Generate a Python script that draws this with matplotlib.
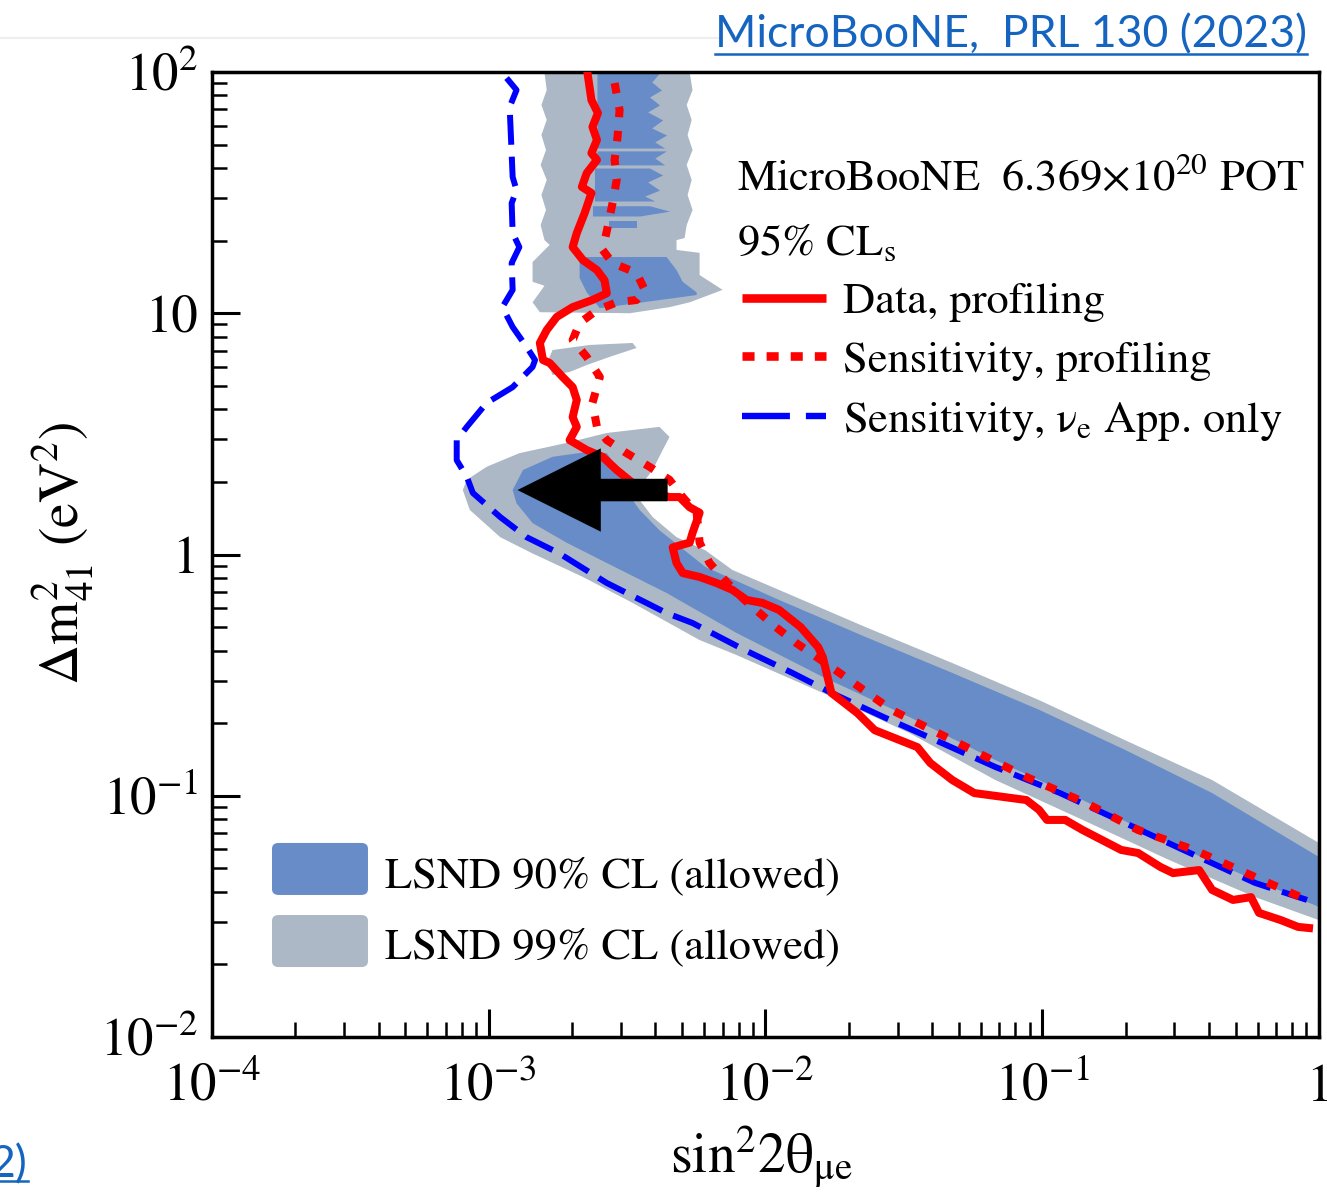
import matplotlib
matplotlib.use('Agg')
import matplotlib.pyplot as plt
from matplotlib.patches import FancyBboxPatch
from matplotlib.lines import Line2D
from matplotlib.ticker import FixedLocator, FixedFormatter, LogLocator, NullFormatter

plt.rcParams['font.family'] = 'STIXGeneral'
plt.rcParams['mathtext.fontset'] = 'stix'

# MicroBooNE data, profiling (95% CLs)
data_x = [2.28e-3, 2.35e-3, 2.48e-3, 2.37e-3, 2.46e-3, 2.35e-3, 2.46e-3, 2.26e-3, 2.17e-3, 2.35e-3,
          2.22e-3, 2.08e-3, 2.01e-3, 2.19e-3, 2.46e-3, 2.62e-3, 2.67e-3, 2.37e-3, 2.01e-3, 1.76e-3,
          1.62e-3, 1.53e-3, 1.57e-3, 1.66e-3, 1.85e-3, 2.01e-3, 2.08e-3, 2.01e-3, 2.08e-3, 1.96e-3,
          2.26e-3, 2.58e-3, 2.90e-3, 3.31e-3, 3.91e-3, 4.50e-3, 4.89e-3, 5.32e-3, 5.78e-3, 5.45e-3,
          5.32e-3, 4.62e-3, 4.77e-3, 5.02e-3, 5.78e-3, 6.65e-3, 7.60e-3, 8.54e-3, 9.75e-3, 1.12e-2,
          1.34e-2, 1.55e-2, 1.61e-2, 1.73e-2, 2.15e-2, 2.48e-2, 3.54e-2, 3.94e-2, 4.73e-2, 5.68e-2,
          8.76e-2, 9.75e-2, 0.104, 0.121, 0.140, 0.193, 0.222, 0.267, 0.297, 0.369,
          0.411, 0.489, 0.568, 0.607, 0.729, 0.840, 0.920]
data_y = [97.0, 76.5, 67.6, 59.2, 52.3, 46.1, 43.2, 38.1, 33.4, 31.5,
          26.0, 21.5, 18.8, 16.6, 15.1, 13.7, 12.1, 11.35, 10.6, 9.65,
          8.52, 7.53, 6.40, 6.22, 5.44, 4.94, 4.37, 3.71, 3.38, 2.98,
          2.71, 2.54, 2.24, 1.98, 1.80, 1.73, 1.73, 1.57, 1.49, 1.23,
          1.12, 1.07, 0.922, 0.838, 0.807, 0.762, 0.713, 0.648, 0.630, 0.589,
          0.500, 0.413, 0.376, 0.267, 0.220, 0.187, 0.159, 0.1367, 0.1162, 0.1026,
          0.0960, 0.0873, 0.0794, 0.0794, 0.0721, 0.0596, 0.0579, 0.0507, 0.0478, 0.0492,
          0.0407, 0.0370, 0.0380, 0.0327, 0.0305, 0.0286, 0.0283]

# sensitivity, profiling
sens_x = [2.85e-3, 2.97e-3, 2.92e-3, 2.85e-3, 2.90e-3, 2.80e-3, 2.69e-3, 2.58e-3, 2.80e-3, 3.42e-3,
          3.66e-3, 3.42e-3, 2.90e-3, 2.46e-3, 2.13e-3, 2.01e-3, 2.26e-3, 2.52e-3, 2.37e-3, 2.46e-3,
          2.67e-3, 3.15e-3, 3.81e-3, 4.50e-3, 5.02e-3, 5.64e-3, 5.78e-3, 6.28e-3, 7.29e-3, 8.40e-3,
          1.09e-2, 1.29e-2, 1.79e-2, 2.85e-2, 4.73e-2, 8.76e-2, 0.144, 0.222, 0.354, 0.588, 0.905]
sens_y = [90.0, 69.6, 53.8, 43.2, 35.7, 28.6, 22.8, 18.3, 16.15, 14.7,
          12.5, 11.35, 11.1, 10.3, 9.11, 7.75, 6.59, 5.44, 4.25, 3.38,
          2.98, 2.63, 2.31, 2.04, 1.73, 1.49, 1.12, 0.922, 0.762, 0.648,
          0.500, 0.430, 0.332, 0.227, 0.170, 0.1196, 0.0933, 0.0721, 0.0596, 0.0460, 0.0370]

# sensitivity, nu_e appearance only
app_x = [1.16e-3, 1.26e-3, 1.19e-3, 1.22e-3, 1.26e-3, 1.21e-3, 1.22e-3, 1.29e-3, 1.21e-3, 1.22e-3,
         1.12e-3, 1.22e-3, 1.37e-3, 1.47e-3, 1.44e-3, 1.22e-3, 9.83e-4, 8.33e-4, 7.66e-4, 7.66e-4,
         8.33e-4, 8.76e-4, 1.10e-3, 1.37e-3, 1.80e-3, 2.67e-3, 4.39e-3, 5.45e-3, 8.40e-3, 1.25e-2,
         1.73e-2, 2.67e-2, 4.11e-2, 6.77e-2, 0.116, 0.199, 0.342, 0.588, 0.905]
app_y = [94.4, 84.2, 71.6, 36.7, 32.4, 28.6, 21.5, 18.8, 16.15, 12.5,
         10.6, 8.77, 7.25, 6.40, 5.99, 4.94, 4.25, 3.38, 2.98, 2.46,
         2.10, 1.80, 1.43, 1.18, 1.01, 0.762, 0.572, 0.520, 0.402, 0.323,
         0.267, 0.212, 0.170, 0.1316, 0.1026, 0.0771, 0.0579, 0.0435, 0.0370]

# LSND 99% CL, main band
l99_x = [8.06e-4, 8.33e-4, 9.83e-4, 1.29e-3, 1.91e-3, 2.67e-3, 4.14e-3, 4.50e-3, 4.25e-3, 3.91e-3,
         3.60e-3, 3.51e-3, 3.91e-3, 4.77e-3, 6.07e-3, 7.60e-3, 1.12e-2, 2.30e-2, 4.73e-2, 9.75e-2,
         0.199, 0.411, 1.0, 1.0, 0.588, 0.287, 0.140, 6.77e-2, 3.31e-2, 1.61e-2,
         7.86e-3, 5.78e-3, 3.31e-3, 2.19e-3, 1.44e-3, 1.10e-3, 8.54e-4]
l99_y = [1.85, 2.04, 2.31, 2.63, 2.90, 3.19, 3.38, 3.07, 2.71, 2.24,
         1.98, 1.68, 1.43, 1.18, 1.04, 0.862, 0.713, 0.500, 0.355, 0.249,
         0.170, 0.1162, 0.0637, 0.0305, 0.0380, 0.0542, 0.0794, 0.1162, 0.182, 0.267,
         0.383, 0.442, 0.630, 0.807, 1.01, 1.18, 1.53]

# LSND 90% CL, main band
l90_x = [1.22e-3, 1.33e-3, 1.70e-3, 2.26e-3, 2.67e-3, 2.90e-3, 3.15e-3, 3.31e-3, 3.51e-3, 4.14e-3,
         6.07e-3, 1.12e-2, 2.30e-2, 4.73e-2, 9.75e-2, 0.199, 0.411, 1.0, 1.0, 0.588,
         0.287, 0.140, 6.77e-2, 3.31e-2, 1.61e-2, 7.86e-3, 4.39e-3, 2.67e-3, 1.91e-3, 1.44e-3, 1.26e-3]
l90_y = [1.85, 2.24, 2.54, 2.66, 2.63, 2.31, 1.98, 1.68, 1.53, 1.26,
         0.887, 0.648, 0.455, 0.323, 0.227, 0.155, 0.1026, 0.0557, 0.0346, 0.0447,
         0.0637, 0.0960, 0.1406, 0.212, 0.311, 0.473, 0.693, 0.922, 1.12, 1.35, 1.63]

# LSND 99% CL, high dm2 region
u99_x = [1.59e-3, 5.32e-3, 5.45e-3, 5.19e-3, 5.41e-3, 5.23e-3, 5.45e-3, 5.19e-3, 5.41e-3, 5.23e-3,
         5.45e-3, 5.19e-3, 5.10e-3, 4.77e-3, 4.77e-3, 5.78e-3, 5.78e-3, 7.0e-3, 5.32e-3, 4.50e-3,
         3.23e-3, 1.53e-3, 1.44e-3, 1.59e-3, 1.44e-3, 1.44e-3, 1.66e-3, 1.59e-3, 1.54e-3, 1.61e-3,
         1.55e-3, 1.62e-3, 1.54e-3, 1.61e-3, 1.55e-3, 1.62e-3, 1.55e-3, 1.62e-3]
u99_y = [99.5, 99.5, 84.2, 73.0, 63.3, 54.8, 47.5, 41.2, 35.7, 30.9,
         26.8, 23.2, 20.5, 20.1, 18.3, 17.8, 14.4, 12.5, 11.1, 10.6,
         10.0, 10.1, 11.1, 13.0, 13.5, 16.3, 19.2, 20.1, 23.2, 26.8,
         30.9, 35.7, 41.2, 47.5, 54.8, 63.3, 73.0, 84.2]

# LSND 99% CL, small island
isl_x = [1.70e-3, 1.63e-3, 1.70e-3, 2.32e-3, 3.31e-3, 3.42e-3, 2.73e-3, 2.26e-3, 1.96e-3]
isl_y = [5.55, 6.28, 7.04, 7.39, 7.53, 7.18, 6.59, 6.10, 5.71]

# LSND 90% CL, high dm2 streaks (y, left edge, right edge)
stripe_y = [[99.0, 90.9, 84.2, 78.8, 73.0, 68.3, 63.3, 58.6, 54.8, 51.3, 48.4],
            [47.1, 44.0, 41.2],
            [40.0, 37.4, 35.0, 32.4, 30.6, 29.2],
            [27.9, 26.5, 25.3],
            [24.1, 22.6]]
stripe_left = [2.46e-3, 2.46e-3, 2.41e-3, 2.37e-3, 2.73e-3]
stripe_right = [[4.14e-3, 3.88e-3, 4.21e-3, 3.81e-3, 4.14e-3, 3.75e-3, 4.25e-3, 3.88e-3, 4.39e-3, 3.98e-3, 4.32e-3],
                [4.39e-3, 3.98e-3, 4.32e-3],
                [3.81e-3, 4.25e-3, 3.75e-3, 4.14e-3, 3.66e-3, 3.98e-3],
                [3.81e-3, 4.50e-3, 3.51e-3],
                [3.42e-3, 3.42e-3]]

# LSND 90% CL, blob around 10-17 eV2
u90_x = [2.13e-3, 4.39e-3, 4.77e-3, 5.02e-3, 5.64e-3, 5.64e-3, 2.52e-3, 2.26e-3, 2.13e-3]
u90_y = [17.1, 17.1, 15.1, 13.5, 12.2, 11.9, 10.5, 12.2, 14.0]

x_ticks = [1e-4, 1e-3, 1e-2, 1e-1, 1]
x_labels = [r'$\mathregular{10^{-4}}$', r'$\mathregular{10^{-3}}$', r'$\mathregular{10^{-2}}$',
            r'$\mathregular{10^{-1}}$', '1']
y_ticks = [1e-2, 1e-1, 1, 10, 100]
y_labels = [r'$\mathregular{10^{-2}}$', r'$\mathregular{10^{-1}}$', '1', '10', r'$\mathregular{10^{2}}$']

c90 = '#678cc8'
c99 = '#acb8c5'
red = '#ff0000'
blue = '#0000ff'

fig = plt.figure(figsize=(13.27, 11.96), dpi=100)
ax = fig.add_axes([0.15976, 0.13294, 0.83421, 0.80686])
ax.set_xscale('log')
ax.set_yscale('log')

# LSND regions
ax.fill(l99_x, l99_y, color=c99, lw=0, zorder=1)
ax.fill(u99_x, u99_y, color=c99, lw=0, zorder=1)
ax.fill(isl_x, isl_y, color=c99, lw=0, zorder=1)
ax.fill(l90_x, l90_y, color=c90, lw=0, zorder=2)
ax.fill(u90_x, u90_y, color=c90, lw=0, zorder=2)
for ys, xl, xr in zip(stripe_y, stripe_left, stripe_right):
    ax.fill_betweenx(ys, xl, xr, color=c90, lw=0, zorder=2)

# MicroBooNE curves
ax.plot(app_x, app_y, color=blue, lw=4.3, linestyle=(0, (5, 2)), zorder=3)
ax.plot(sens_x, sens_y, color=red, lw=5.8, linestyle=(0, (1.3, 1.7)), zorder=4)
ax.plot(data_x, data_y, color=red, lw=5.8, solid_joinstyle='round', zorder=5)

# black arrow pointing at the LSND best-fit island
ax.annotate('', xy=(1.27e-3, 1.85), xytext=(4.43e-3, 1.85),
            arrowprops=dict(arrowstyle='simple,head_length=1.0,head_width=1.0,tail_width=0.27',
                            mutation_scale=60, color='black', lw=0, shrinkA=0, shrinkB=0),
            zorder=6)

ax.set_xlim(1e-4, 1)
ax.set_ylim(1e-2, 1e2)
ax.xaxis.set_major_locator(FixedLocator(x_ticks))
ax.xaxis.set_major_formatter(FixedFormatter(x_labels))
ax.yaxis.set_major_locator(FixedLocator(y_ticks))
ax.yaxis.set_major_formatter(FixedFormatter(y_labels))
ax.xaxis.set_minor_locator(LogLocator(base=10, subs=range(2, 10), numticks=20))
ax.yaxis.set_minor_locator(LogLocator(base=10, subs=range(2, 10), numticks=20))
ax.xaxis.set_minor_formatter(NullFormatter())
ax.yaxis.set_minor_formatter(NullFormatter())
ax.tick_params(which='both', direction='in', top=False, right=False, labelsize=38)
ax.tick_params(which='major', length=20, width=2.2)
ax.tick_params(which='minor', length=11, width=1.8)
ax.tick_params(axis='x', pad=19)
ax.tick_params(axis='y', pad=10)
for s in ax.spines.values():
    s.set_linewidth(2.5)

# axis titles
fig.text(0.574, 0.020, r'sin$^{\mathregular{2}}$2θ$_{\mathregular{μe}}$', fontsize=40, ha='center', va='baseline')
fig.text(0.047, 0.537, r'Δm$^{\mathregular{2}}_{\mathregular{41}}$ (eV$^{\mathregular{2}}$)', fontsize=40,
         rotation=90, ha='center', va='center')

# top right legend
fs = 32
ax.text(0.4743, 0.8777, r'MicroBooNE  6.369×10$^{\mathregular{20}}$ POT', fontsize=fs,
        transform=ax.transAxes, va='baseline')
ax.text(0.4743, 0.8104, r'95% CL$_{\mathregular{s}}$', fontsize=fs, transform=ax.transAxes, va='baseline')
ax.plot([0.4788, 0.5547], [0.7658, 0.7658], color=red, lw=6.2, solid_capstyle='butt',
        transform=ax.transAxes)
ax.plot([0.4788, 0.5547], [0.7057, 0.7057], color=red, lw=6.2, linestyle=(0, (1.4, 1.4)),
        transform=ax.transAxes)
ax.plot([0.4788, 0.5547], [0.6435, 0.6435], color=blue, lw=4.6, linestyle=(0, (7.5, 2.5)),
        transform=ax.transAxes)
ax.text(0.570, 0.7503, 'Data, profiling', fontsize=fs, transform=ax.transAxes, va='baseline')
ax.text(0.570, 0.6891, 'Sensitivity, profiling', fontsize=fs, transform=ax.transAxes, va='baseline')
ax.text(0.570, 0.6269, r'Sensitivity, ν$_{\mathregular{e}}$ App. only', fontsize=fs,
        transform=ax.transAxes, va='baseline')

# bottom left legend
for yb, col, lab, yt in [(0.1472, c90, 'LSND 90% CL (allowed)', 0.1554),
                         (0.0725, c99, 'LSND 99% CL (allowed)', 0.0819)]:
    ax.add_patch(FancyBboxPatch((0.0542, yb), 0.0867, 0.0539, boxstyle='round,pad=0,rounding_size=0.006',
                                transform=ax.transAxes, facecolor=col, edgecolor='none', zorder=7))
    ax.text(0.1563, yt, lab, fontsize=fs, transform=ax.transAxes, va='baseline', zorder=7)

# slide decorations: reference links (underlined) and faint border line
link = '#1565c0'
t1 = fig.text(0.985, 0.9607, 'MicroBooNE,  PRL 130 (2023)', fontsize=32, color=link,
              family='Lato', ha='right', va='baseline')
t2 = fig.text(28 / 1327, 0.0151, '2)', fontsize=32, color=link, family='Lato',
              ha='right', va='baseline')
fig.add_artist(Line2D([0, 0.543], [0.968, 0.968], color='#eeeeee', lw=1.5))

renderer = fig.canvas.get_renderer()
for t, yline in [(t1, 0.9545), (t2, 0.0125)]:
    bb = t.get_window_extent(renderer)
    x0, x1 = bb.x0 / fig.bbox.width, bb.x1 / fig.bbox.width
    fig.add_artist(Line2D([x0, x1], [yline, yline], color=link, lw=1.8))

fig.savefig('out.png', dpi=100)
